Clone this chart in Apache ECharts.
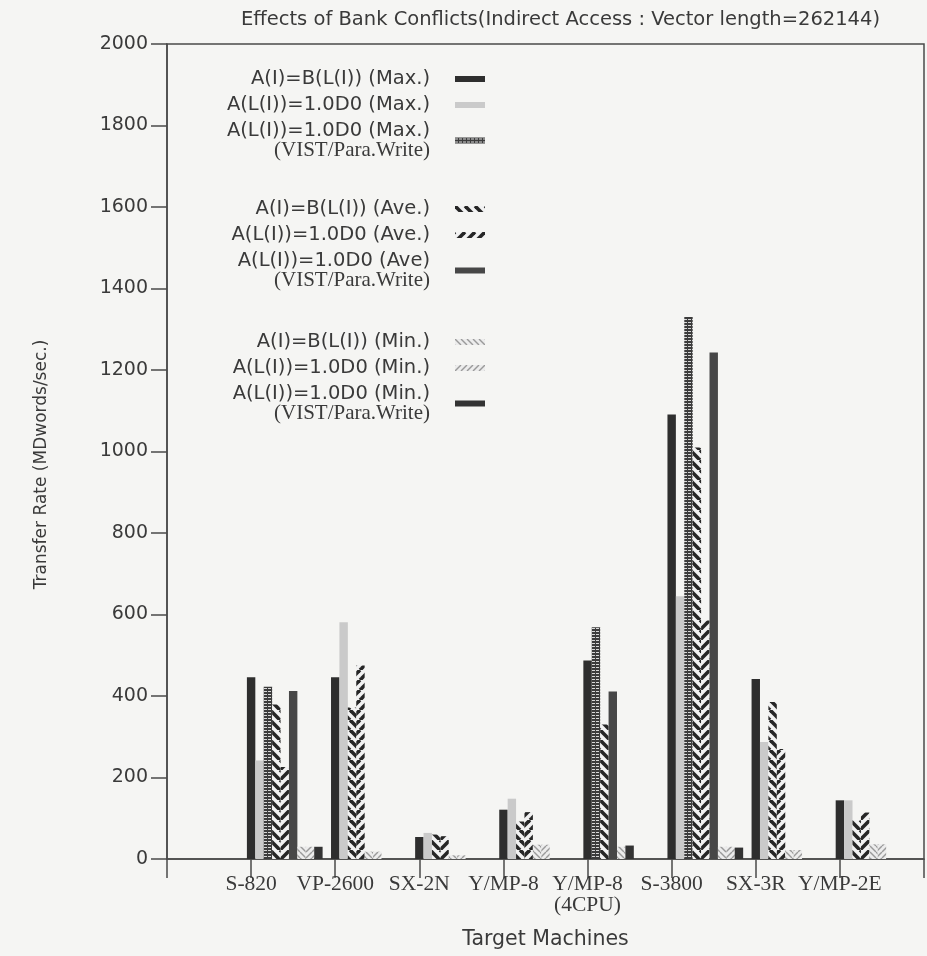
<!DOCTYPE html>
<html lang="en" style="height: 100%">
<head>
  <meta charset="utf-8">
</head>
<body style="height: 100%; margin: 0">
  <div id="container" style="height: 100%"></div>

  <script type="text/javascript" src="https://cdn.jsdelivr.net/npm/echarts@6.0.0/dist/echarts.min.js"></script>

  <script type="text/javascript">
    var machines = ['S-820', 'VP-2600', 'SX-2N', 'Y/MP-8', 'Y/MP-8\n(4CPU)', 'S-3800', 'SX-3R', 'Y/MP-2E'];

    // MDwords/sec (null = bar not drawn)
    var maxIndirect = [446, 446, 54, 121, 487, 1091, 442, 144];
    var maxScatter = [242, 581, 64, 148, null, 645, 287, 144];
    var maxVist = [423, null, null, null, 569, 1330, null, null];
    var aveIndirect = [379, 372, 60, 92, 330, 1010, 385, 95];
    var aveScatter = [226, 475, 56, 115, null, 585, 270, 114];
    var aveVist = [412, null, null, null, 411, 1243, null, null];
    var minIndirect = [30, 18, 9, 35, 30, 30, 22, 36];
    var minScatter = [30, 18, 9, 35, null, 30, 22, 36];
    var minVist = [30, null, null, null, 33, 28, null, null];

    var seriesNames = [
      'A(I)=B(L(I)) (Max.)',
      'A(L(I))=1.0D0 (Max.)',
      'A(L(I))=1.0D0 (Max.)\n(VIST/Para.Write)',
      'A(I)=B(L(I)) (Ave.)',
      'A(L(I))=1.0D0 (Ave.)',
      'A(L(I))=1.0D0 (Ave)\n(VIST/Para.Write)',
      'A(I)=B(L(I)) (Min.)',
      'A(L(I))=1.0D0 (Min.)',
      'A(L(I))=1.0D0 (Min.)\n(VIST/Para.Write)'
    ];
    var seriesValues = [maxIndirect, maxScatter, maxVist, aveIndirect, aveScatter, aveVist, minIndirect, minScatter, minVist];

    var yTicks = [0, 200, 400, 600, 800, 1000, 1200, 1400, 1600, 1800, 2000];

    function stripes(dir, color, bg, size, lw) {
      var c = document.createElement('canvas');
      c.width = c.height = size;
      var ctx = c.getContext('2d');
      ctx.fillStyle = bg;
      ctx.fillRect(0, 0, size, size);
      ctx.strokeStyle = color;
      ctx.lineWidth = lw;
      for (var k = -size; k <= size; k += size) {
        ctx.beginPath();
        if (dir === 'back') {
          ctx.moveTo(k, 0);
          ctx.lineTo(k + size, size);
        } else {
          ctx.moveTo(k, size);
          ctx.lineTo(k + size, 0);
        }
        ctx.stroke();
      }
      return { image: c, repeat: 'repeat' };
    }

    function ladder() {
      var c = document.createElement('canvas');
      c.width = 4;
      c.height = 3;
      var ctx = c.getContext('2d');
      ctx.fillStyle = '#3c3c3c';
      ctx.fillRect(0, 0, 4, 3);
      ctx.fillStyle = '#d8d8d8';
      ctx.fillRect(0, 1, 3, 1);
      return { image: c, repeat: 'repeat' };
    }

    var fills = [
      '#2e2e2e',
      '#cacaca',
      ladder(),
      stripes('back', '#262626', '#f2f2f2', 10, 3.6),
      stripes('fwd', '#262626', '#f2f2f2', 10, 3.6),
      '#474747',
      stripes('back', '#9a9a9a', '#ececec', 6, 1.4),
      stripes('fwd', '#9a9a9a', '#ececec', 6, 1.4),
      '#333333'
    ];

    // axis points: an empty slot at each end, machines in between
    var axisCats = [''].concat(machines, ['']);

    function barData(s) {
      var rows = [];
      for (var i = 0; i < machines.length; i++) {
        if (seriesValues[s][i] == null) continue;
        var slot = 0;
        for (var k = 0; k < s; k++) if (seriesValues[k][i] != null) slot++;
        rows.push([i + 1, seriesValues[s][i], slot]);
      }
      return rows;
    }

    function renderBar(params, api) {
      var i = api.value(0);
      var base = api.coord([i, 0]);
      var top = api.coord([i, api.value(1)]);
      var step = api.coord([i + 1, 0])[0] - base[0];
      var w = step / 10;
      return {
        type: 'rect',
        shape: { x: base[0] - w / 2 + api.value(2) * w, y: top[1], width: w, height: base[1] - top[1] },
        style: { fill: fills[params.seriesIndex] }
      };
    }

    var series = seriesNames.map(function (name, s) {
      return {
        name: name,
        type: 'custom',
        renderItem: renderBar,
        itemStyle: { color: fills[s] },
        encode: { x: 0, y: 1 },
        data: barData(s)
      };
    });

    var textColor = '#3a3a3a';
    var lineColor = '#4a4a4a';

    function legendBlock(names, top) {
      return {
        orient: 'vertical',
        right: 442,
        top: top,
        padding: 0,
        itemGap: 6,
        itemWidth: 30,
        itemHeight: 6,
        icon: 'rect',
        align: 'right',
        selectedMode: false,
        data: names,
        formatter: function (name) {
          var parts = name.split('\n');
          var out = '{a|' + parts[0] + '}';
          if (parts[1]) out += '\n{b|' + parts[1] + '}';
          return out;
        },
        textStyle: {
          padding: [0, 20, 0, 0],
          rich: {
            a: { fontFamily: 'DejaVu Sans', fontSize: 19.5, lineHeight: 19, color: textColor, align: 'right' },
            b: { fontFamily: 'Liberation Serif', fontSize: 21, lineHeight: 19, color: textColor, align: 'right' }
          }
        }
      };
    }

    var dom = document.getElementById('container');
    var myChart = echarts.init(dom, null, { renderer: 'canvas' });

    var option = {
      animation: false,
      backgroundColor: '#f5f5f3',
      title: {
        text: 'Effects of Bank Conflicts(Indirect Access : Vector length=262144)',
        left: 236,
        top: 5,
        textStyle: { fontFamily: 'DejaVu Sans', fontSize: 19.5, fontWeight: 'normal', color: textColor }
      },
      legend: [
        legendBlock(seriesNames.slice(0, 3), 69),
        legendBlock(seriesNames.slice(3, 6), 199),
        legendBlock(seriesNames.slice(6, 9), 332)
      ],
      grid: {
        left: 167,
        right: 2,
        top: 44,
        bottom: 97,
        show: true,
        borderColor: lineColor,
        borderWidth: 1.5,
        backgroundColor: 'transparent'
      },
      xAxis: {
        type: 'category',
        data: axisCats,
        boundaryGap: false,
        name: 'Target Machines',
        nameLocation: 'middle',
        nameGap: 70,
        nameTextStyle: { fontFamily: 'DejaVu Sans', fontSize: 20.5, color: textColor },
        axisLine: { lineStyle: { color: lineColor, width: 1.5 } },
        axisTick: { interval: 0, length: 19, lineStyle: { color: lineColor, width: 1.5 } },
        axisLabel: {
          interval: 0,
          margin: 15,
          fontFamily: 'Liberation Serif',
          fontSize: 21.5,
          lineHeight: 21,
          color: textColor
        },
        splitLine: { show: false }
      },
      yAxis: {
        type: 'value',
        min: yTicks[0],
        max: yTicks[yTicks.length - 1],
        interval: 200,
        name: 'Transfer Rate (MDwords/sec.)',
        nameLocation: 'middle',
        nameGap: 117,
        nameTextStyle: { fontFamily: 'DejaVu Sans', fontSize: 17, color: textColor, padding: [0, 26, 0, 0] },
        axisLine: { show: true, lineStyle: { color: lineColor, width: 1.5 } },
        axisTick: { show: true, length: 16, lineStyle: { color: lineColor, width: 1.5 } },
        axisLabel: {
          margin: 19,
          fontFamily: 'DejaVu Sans',
          fontSize: 19,
          color: textColor,
          formatter: function (v) { return String(v); }
        },
        splitLine: { show: false }
      },
      series: series
    };

    myChart.setOption(option);
    window.addEventListener('resize', myChart.resize);
  </script>
</body>
</html>
